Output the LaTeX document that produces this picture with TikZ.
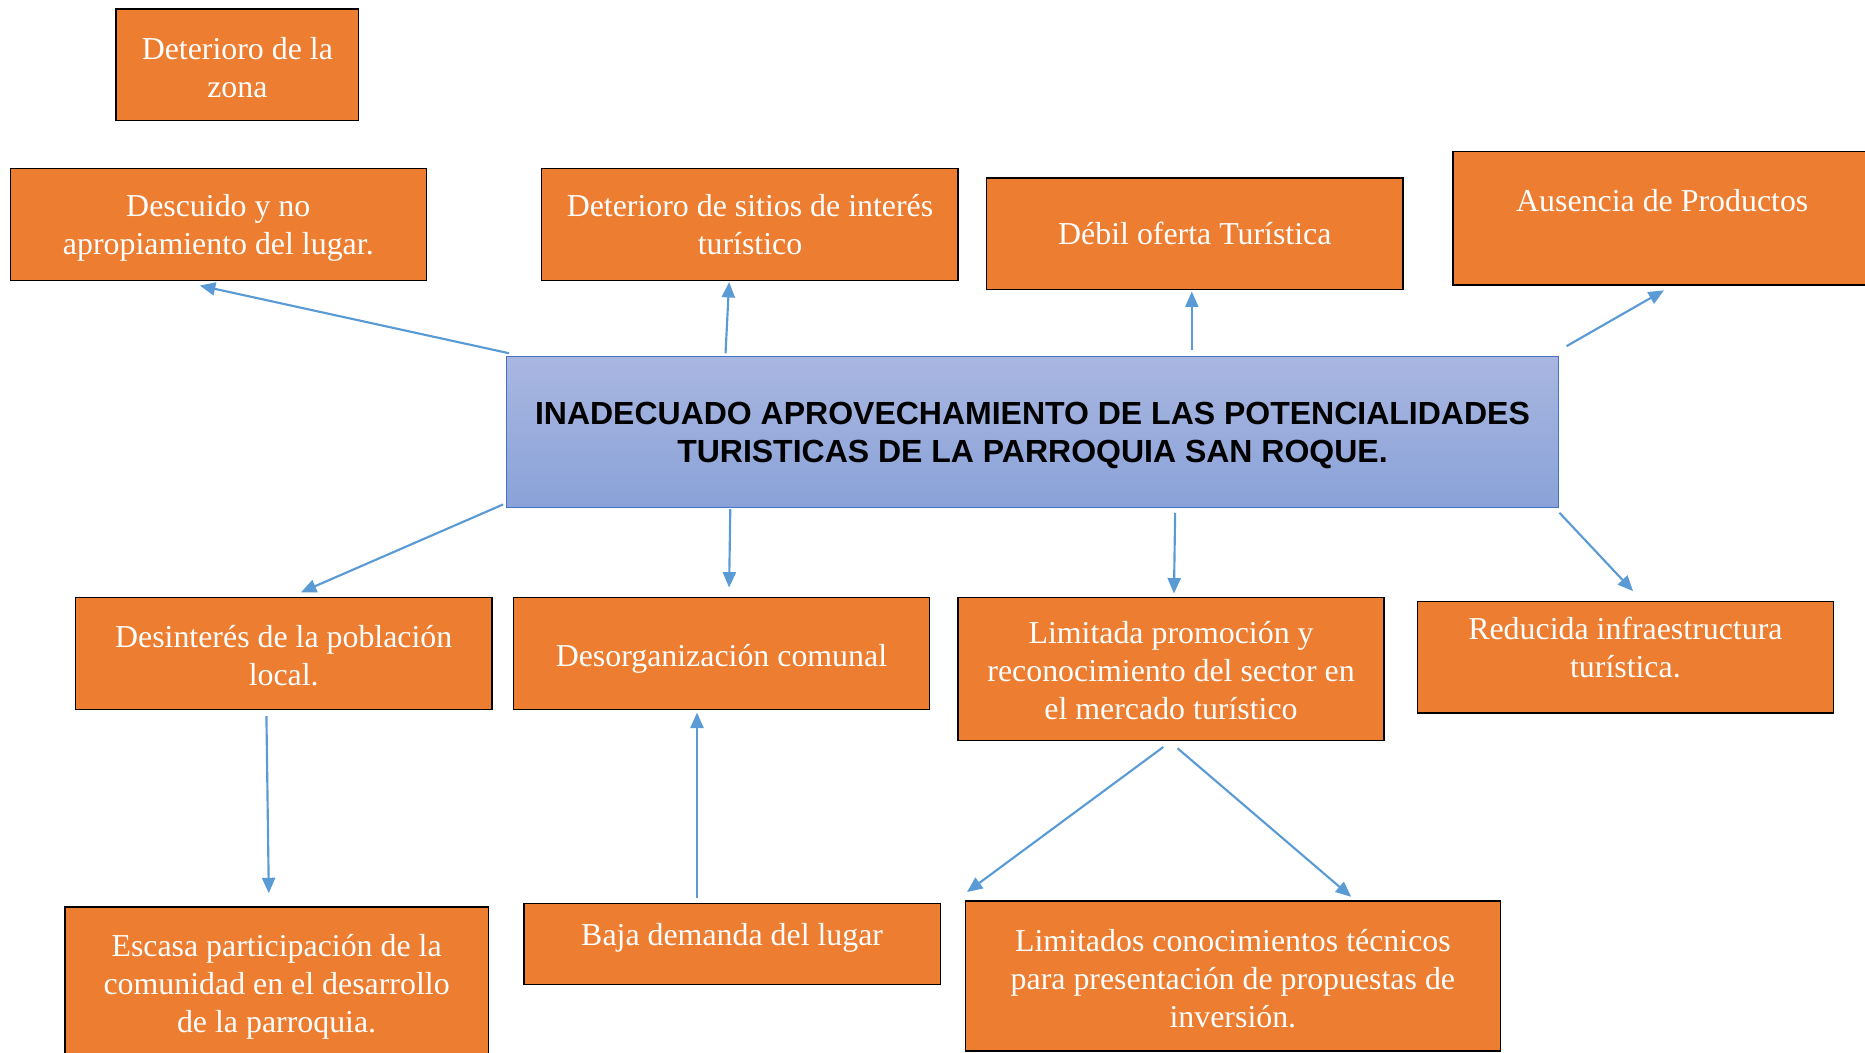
\documentclass[tikz,border=0pt]{standalone}
\usepackage{fontspec}
\setmainfont{Liberation Serif}
\newfontfamily\arialfont{Liberation Sans}
\usetikzlibrary{arrows.meta}
\definecolor{boxorange}{HTML}{ED7D31}
\definecolor{arrblue}{HTML}{5B9BD5}
\definecolor{mainborder}{HTML}{4472C4}
\definecolor{maintop}{HTML}{A9B7E1}
\definecolor{mainbot}{HTML}{8AA2D8}
\newcommand{\vmove}[2]{\raisebox{#1}[\height][\depth]{#2}}
\tikzset{
  obox/.style={draw=black, line width=1.1pt, fill=boxorange, text=white,
    anchor=north west, inner sep=2pt, align=center,
    font=\fontsize{26.8}{32}\selectfont},
  mainbox/.style={draw=mainborder, line width=1.1pt, top color=maintop, bottom color=mainbot,
    anchor=north west, inner sep=2pt, align=center,
    font=\arialfont\bfseries\fontsize{26.9}{32}\selectfont},
  arr/.style={draw=arrblue, line width=1.8pt, -{Triangle[length=13pt,width=11pt]}}
}
\begin{document}
\begin{tikzpicture}[x=1pt,y=-1pt]
\useasboundingbox (0,0) rectangle (1568,885);

% top row
\node[obox, minimum width=204pt, minimum height=94pt] (zona) at (97,7) {\vmove{-2pt}{\parbox{200pt}{\centering Deterioro de la\\zona}}};
\node[obox, minimum width=350pt, minimum height=94pt] (desc) at (8,141) {\vmove{-3pt}{\parbox{345pt}{\centering Descuido y no\\apropiamiento del lugar.}}};
\node[obox, minimum width=350pt, minimum height=94pt] (sitios) at (455,141) {Deterioro de sitios de interés\\turístico};
\node[obox, minimum width=350pt, minimum height=94pt] (debil) at (829,149) {Débil oferta Turística};
\node[obox, minimum width=352pt, minimum height=112pt] (aus) at (1221,127) {\vmove{15pt}{Ausencia de Productos}};

% main
\node[mainbox, minimum width=885pt, minimum height=127pt] (main) at (425,299)
  {\vmove{-3pt}{\parbox{880pt}{\centering INADECUADO APROVECHAMIENTO DE LAS POTENCIALIDADES\\TURISTICAS DE LA PARROQUIA SAN ROQUE.}}};

% middle row
\node[obox, minimum width=350pt, minimum height=94pt] (desint) at (63,502) {\vmove{-2pt}{\parbox{345pt}{\centering Desinterés de la población\\local.}}};
\node[obox, minimum width=350pt, minimum height=94pt] (desorg) at (431,502) {\vmove{-4pt}{Desorganización comunal}};
\node[obox, minimum width=358pt, minimum height=120pt] (lim) at (805,502) {\vmove{-1pt}{\parbox{350pt}{\centering Limitada promoción y\\reconocimiento del sector en\\el mercado turístico}}};
\node[obox, minimum width=350pt, minimum height=94pt] (red) at (1191,505)
  {\vmove{8pt}{\parbox{345pt}{\centering Reducida infraestructura\\turística.}}};

% bottom row
\node[obox, minimum width=356pt, minimum height=128pt] (esc) at (54,762) {\vmove{-3pt}{\parbox{350pt}{\centering Escasa participación de la\\comunidad en el desarrollo\\de la parroquia.}}};
\node[obox, minimum width=350pt, minimum height=68pt] (baja) at (440,759) {\vmove{5pt}{Baja demanda del lugar}};
\node[obox, minimum width=450pt, minimum height=126pt] (limi) at (811,757) {\vmove{-2pt}{\parbox{445pt}{\centering Limitados conocimientos técnicos\\para presentación de propuestas de\\inversión.}}};

% arrows
\draw[arr] ([shift={(3,-2)}]main.north west) -- ([shift={(160,4)}]desc.south west);
\draw[arr] ([shift={(185,-2)}]main.north west) -- ([shift={(158,1)}]sitios.south west);
\draw[arr] ([shift={(577,-5)}]main.north west) -- ([shift={(173,1)}]debil.south west);
\draw[arr] ([shift={(6,-8)}]main.north east) -- ([shift={(178,4)}]aus.south west);
\draw[arr] ([shift={(-2,-3)}]main.south west) -- ([shift={(190,-4)}]desint.north west);
\draw[arr] ([shift={(189,1)}]main.south west) -- ([shift={(182,-8)}]desorg.north west);
\draw[arr] ([shift={(563,4)}]main.south west) -- ([shift={(182,-3)}]lim.north west);
\draw[arr] ([shift={(0,4)}]main.south east) -- ([shift={(182,-8)}]red.north west);
\draw[arr] ([shift={(161,5)}]desint.south west) -- ([shift={(172,-11)}]esc.north west);
\draw[arr] ([shift={(146,-4)}]baja.north west) -- ([shift={(155,2)}]desorg.south west);
\draw[arr] ([shift={(173,5)}]lim.south west) -- ([shift={(2,-7)}]limi.north west);
\draw[arr] ([shift={(185,6)}]lim.south west) -- ([shift={(325,-3)}]limi.north west);
\end{tikzpicture}
\end{document}
